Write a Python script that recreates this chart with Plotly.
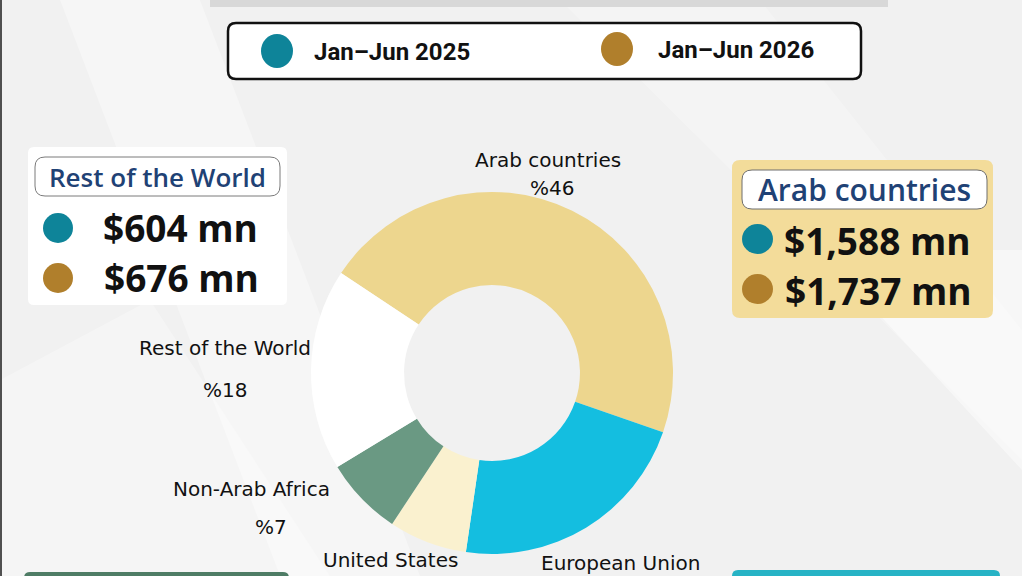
import plotly.graph_objects as go

# ---------------- data ----------------
regions = ["Arab countries", "European Union", "United States", "Non-Arab Africa", "Rest of the World"]
shares = [46, 22, 7, 7, 18]
slice_colors = ["#EDD68E", "#14BEE0", "#FAF1CF", "#6A9983", "#FFFFFF"]

periods = ["Jan–Jun 2025", "Jan–Jun 2026"]
period_colors = ["#0E8499", "#B07F2C"]

arab_values = ["$1,588 mn", "$1,737 mn"]
row_values = ["$604 mn", "$676 mn"]

W, H = 1022, 576

fig = go.Figure()

# invisible helper trace to create pixel-space axes
fig.add_trace(go.Scatter(x=[0, W], y=[0, H], mode="markers",
                         marker=dict(opacity=0), hoverinfo="skip", showlegend=False))

# donut
cx, cy, r = 492, 373, 181
fig.add_trace(go.Pie(
    labels=regions, values=shares, sort=False, direction="clockwise",
    rotation=303.5, hole=0.486, textinfo="none", showlegend=False,
    marker=dict(colors=slice_colors, line=dict(width=0)),
    domain=dict(x=[(cx - r) / W, (cx + r) / W], y=[1 - (cy + r) / H, 1 - (cy - r) / H]),
))

shapes = []


def rrect(x0, y0, x1, y1, rad, fill, line_color=None, lw=0, opacity=1, layer="below"):
    p = (f"M {x0+rad},{y0} L {x1-rad},{y0} Q {x1},{y0} {x1},{y0+rad} "
         f"L {x1},{y1-rad} Q {x1},{y1} {x1-rad},{y1} L {x0+rad},{y1} "
         f"Q {x0},{y1} {x0},{y1-rad} L {x0},{y0+rad} Q {x0},{y0} {x0+rad},{y0} Z")
    return dict(type="path", path=p, xref="x", yref="y", fillcolor=fill,
                line=dict(color=line_color or fill, width=lw), opacity=opacity, layer=layer)


# background streaks
for pts, op in [
    ([(60, 0), (200, 0), (420, 576), (280, 576)], 0.35),
    ([(820, 250), (1022, 250), (1022, 470)], 0.45),
    ([(560, 0), (760, 0), (1022, 330), (1022, 460)], 0.25),
    ([(0, 380), (150, 300), (330, 576), (0, 576)], 0.3),
]:
    p = "M " + " L ".join(f"{x},{y}" for x, y in pts) + " Z"
    shapes.append(dict(type="path", path=p, xref="x", yref="y", fillcolor="white",
                       line=dict(width=0), opacity=op, layer="below"))

# top gray bar, left border line, bottom boxes
shapes.append(dict(type="rect", x0=210, y0=-5, x1=888, y1=7, xref="x", yref="y",
                   fillcolor="#d8d8d8", line=dict(width=0), layer="below"))
shapes.append(dict(type="rect", x0=0, y0=0, x1=2, y1=H, xref="x", yref="y",
                   fillcolor="#505050", line=dict(width=0), layer="below"))
shapes.append(rrect(24, 572, 289, 600, 6, "#4E7C65"))
shapes.append(rrect(732, 570, 1000, 600, 6, "#27B3C5"))

# legend box
shapes.append(rrect(228, 23, 861, 79, 8, "white", "#111111", 2.5))
leg_x = [277, 617]
leg_text_x = [312, 656]
leg_y = [51, 49]
for i in range(2):
    shapes.append(dict(type="circle", xref="x", yref="y",
                       x0=leg_x[i] - 16, x1=leg_x[i] + 16, y0=leg_y[i] - 17, y1=leg_y[i] + 17,
                       fillcolor=period_colors[i], line=dict(width=0), layer="above"))

# left panel (Rest of the World)
shapes.append(rrect(28, 147, 287, 305, 6, "white"))
shapes.append(rrect(35, 157, 280, 196, 10, "white", "#7a7a7a", 1))
# right panel (Arab countries)
shapes.append(rrect(732, 160, 993, 318, 8, "#F3DC9A"))
shapes.append(rrect(742, 170, 987, 209, 10, "white", "#6e6e6e", 1))

left_dot_y = [228, 278]
right_dot_y = [239, 289]
for i in range(2):
    shapes.append(dict(type="circle", xref="x", yref="y", x0=43, x1=73,
                       y0=left_dot_y[i] - 15, y1=left_dot_y[i] + 15,
                       fillcolor=period_colors[i], line=dict(width=0), layer="above"))
    shapes.append(dict(type="circle", xref="x", yref="y", x0=742, x1=773,
                       y0=right_dot_y[i] - 15, y1=right_dot_y[i] + 15,
                       fillcolor=period_colors[i], line=dict(width=0), layer="above"))

annotations = []


def txt(x, y, s, size, color="#111111", family="Open Sans", weight="bold", anchor="center"):
    annotations.append(dict(x=x, y=y, xref="x", yref="y", text=s, showarrow=False,
                            xanchor=anchor, yanchor="middle",
                            font=dict(size=size, color=color, family=family, weight=weight)))


for i in range(2):
    txt(leg_text_x[i], leg_y[i] + 1, periods[i], 24, "#111111", "Roboto", "bold", "left")

txt(157, 177, regions[4], 26, "#1F4275", "Open Sans", 600)
txt(180, 227, row_values[0], 37)
txt(181, 277, row_values[1], 37)
txt(864, 189, regions[0], 30, "#1F4275", "Open Sans", 600)
txt(877, 240, arab_values[0], 37)
txt(878, 290, arab_values[1], 37)

# slice labels
label_pos = {
    "Arab countries": (548, 160, 552, 188),
    "Rest of the World": (225, 348, 225, 390),
    "Non-Arab Africa": (251, 489, 271, 527),
    "United States": (390, 560, None, None),
    "European Union": (620, 563, None, None),
}
for name, pct in zip(regions, shares):
    lx, ly, px, py = label_pos[name]
    txt(lx, ly, name, 20, "#111111", "DejaVu Sans", "normal")
    if px is not None:
        txt(px, py, f"%{pct}", 20, "#111111", "DejaVu Sans", "normal")

fig.update_layout(
    width=W, height=H, margin=dict(l=0, r=0, t=0, b=0),
    paper_bgcolor="#F1F1F1", plot_bgcolor="rgba(0,0,0,0)",
    xaxis=dict(range=[0, W], visible=False, domain=[0, 1], fixedrange=True),
    yaxis=dict(range=[H, 0], visible=False, domain=[0, 1], fixedrange=True),
    shapes=shapes, annotations=annotations, showlegend=False,
)

fig.write_html("out.html")
